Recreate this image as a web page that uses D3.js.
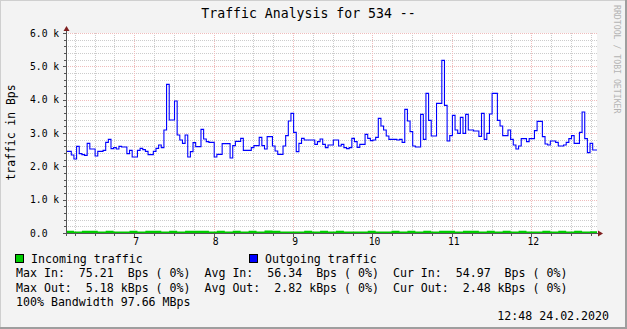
<!DOCTYPE html>
<html>
<head>
<meta charset="utf-8">
<script src="https://cdn.jsdelivr.net/npm/d3@7"></script>
<style>
  body { margin: 0; background: #f3f3f3; }
  text { font-family: "DejaVu Sans Mono", monospace; }
</style>
</head>
<body>
<div id="chart"></div>
<script>
// outgoing traffic in Bps, one value every 2 minutes from 06:08:24
var outBps = [
  2450, 2450, 2340, 2220, 2600, 2380, 2350, 2330, 2690, 2520,
  2520, 2310, 2450, 2450, 2480, 2720, 2810, 2530, 2560, 2520,
  2600, 2580, 2580, 2380, 2480, 2280, 2280, 2480, 2540, 2500,
  2450, 2350, 2350, 2450, 2540, 2640, 2560, 3090, 4460, 3390,
  3390, 3960, 2940, 2790, 2690, 2940, 2280, 2440, 2710, 2590,
  2590, 3110, 2820, 2740, 2720, 2720, 2280, 2360, 2360, 2680,
  2680, 2680, 2250, 2620, 2750, 2750, 2840, 2480, 2480, 2480,
  2560, 2620, 2620, 2870, 2620, 2520, 2890, 2890, 2610, 2460,
  2360, 2360, 2610, 2920, 3360, 3590, 3020, 2440, 2690, 2840,
  2790, 2790, 2790, 2790, 2660, 2740, 2820, 2660, 2560, 2640,
  2640, 2790, 2790, 2610, 2660, 2560, 2530, 2560, 2840, 2740,
  2570, 2660, 2660, 2960, 2840, 2770, 2790, 2870, 3440, 3210,
  3090, 2910, 2810, 2810, 2810, 2790, 2810, 2720, 3710, 3360,
  3040, 2610, 2580, 2580, 3560, 2810, 4190, 3380, 2910, 2910,
  3890, 3890, 5180, 3830, 2760, 2920, 3530, 3090, 2990, 3470,
  2990, 3560, 3090, 3090, 3060, 3060, 2900, 3590, 2810, 2990,
  3570, 4190, 4190, 3380, 3210, 2920, 2920, 3090, 2810, 2640,
  2520, 2610, 2830, 2830, 2740, 2830, 2830, 3070, 3350, 3350,
  2890, 2670, 2640, 2760, 2760, 2720, 2610, 2610, 2640, 2720,
  2830, 2920, 2690, 2690, 3020, 3630, 2830, 2410, 2690, 2490
];

// incoming traffic in Bps, one value every 6 minutes from 06:08:24
var inBps = [
  68, 45, 68, 68, 45, 68, 45, 45, 68, 45,
  68, 68, 45, 68, 45, 68, 68, 68, 45, 68,
  45, 68, 45, 68, 45, 75, 68, 45, 45, 45,
  68, 45, 68, 45, 68, 45, 45, 45, 68, 45,
  45, 68, 45, 68, 45, 68, 45, 68, 68, 45,
  68, 68, 45, 68, 45, 68, 45, 68, 45, 45,
  68, 45, 68, 45, 68, 45, 55
];

var yTickLabels = ["0.0", "1.0 k", "2.0 k", "3.0 k", "4.0 k", "5.0 k", "6.0 k"];

var legendNames = ["Incoming traffic", "Outgoing traffic"];
var legendColors = ["#00cc00", "#0000ff"];
var statRows = [
  "Max In:  75.21  Bps ( 0%)  Avg In:  56.34  Bps ( 0%)  Cur In:  54.97  Bps ( 0%)",
  "Max Out:  5.18 kBps ( 0%)  Avg Out:  2.82 kBps ( 0%)  Cur Out:  2.48 kBps ( 0%)",
  "100% Bandwidth 97.66 MBps"
];

var t0 = new Date(2020, 1, 24, 6, 8, 24);
var t1 = new Date(2020, 1, 24, 12, 49, 40);

var width = 627, height = 329;
var pLeft = 66, pRight = 597, pTop = 33, pBottom = 233;

var svg = d3.select("#chart").append("svg")
    .attr("width", width)
    .attr("height", height);

// background + 3d frame
svg.append("rect").attr("width", width).attr("height", height).attr("fill", "#f3f3f3");
svg.append("rect").attr("x", 0).attr("y", 0).attr("width", width).attr("height", 1).attr("fill", "#cfcfcf");
svg.append("rect").attr("x", 0).attr("y", 0).attr("width", 1).attr("height", height).attr("fill", "#cfcfcf");
svg.append("rect").attr("x", 0).attr("y", height - 2).attr("width", width).attr("height", 2).attr("fill", "#9e9e9e");
svg.append("rect").attr("x", width - 2).attr("y", 0).attr("width", 2).attr("height", height).attr("fill", "#9e9e9e");

var x = d3.scaleTime().domain([t0, t1]).range([pLeft, pRight]);
var y = d3.scaleLinear().domain([0, 6000]).range([pBottom, pTop]);

// canvas
svg.append("rect")
    .attr("x", pLeft).attr("y", pTop)
    .attr("width", pRight - pLeft).attr("height", pBottom - pTop)
    .attr("fill", "#ffffff");

var grid = svg.append("g").attr("shape-rendering", "crispEdges");

var minorTimes = d3.timeMinute.every(15).range(t0, t1).filter(function (d) { return d.getMinutes() !== 0; });
var hourTimes = d3.timeHour.every(1).range(t0, t1);
var minorVals = y.ticks(30).filter(function (d) { return d % 1000 !== 0; });
var majorVals = y.ticks(6);

grid.selectAll(".vmin").data(minorTimes).enter().append("line")
    .attr("x1", function (d) { return Math.round(x(d)) + 0.5; })
    .attr("x2", function (d) { return Math.round(x(d)) + 0.5; })
    .attr("y1", pTop).attr("y2", pBottom)
    .style("stroke", "#cccccc")
    .style("stroke-dasharray", "1,1");

grid.selectAll(".hmin").data(minorVals).enter().append("line")
    .attr("x1", pLeft).attr("x2", pRight)
    .attr("y1", function (d) { return Math.round(y(d)) + 0.5; })
    .attr("y2", function (d) { return Math.round(y(d)) + 0.5; })
    .style("stroke", "#cccccc")
    .style("stroke-dasharray", "1,1");

grid.selectAll(".vmaj").data(hourTimes).enter().append("line")
    .attr("x1", function (d) { return Math.round(x(d)) + 0.5; })
    .attr("x2", function (d) { return Math.round(x(d)) + 0.5; })
    .attr("y1", pTop).attr("y2", pBottom)
    .style("stroke", "#efbcbc")
    .style("stroke-dasharray", "1,1");

grid.selectAll(".hmaj").data(majorVals).enter().append("line")
    .attr("x1", pLeft).attr("x2", pRight)
    .attr("y1", function (d) { return Math.round(y(d)) + 0.5; })
    .attr("y2", function (d) { return Math.round(y(d)) + 0.5; })
    .style("stroke", "#efbcbc")
    .style("stroke-dasharray", "1,1");

function toPoints(vals, stepSec) {
    var pts = vals.map(function (v, i) { return { t: new Date(+t0 + i * stepSec * 1000), v: v }; });
    pts.push({ t: t1, v: vals[vals.length - 1] });
    return pts;
}

var inPts = toPoints(inBps, 360);
var outPts = toPoints(outBps, 120);

svg.append("path")
    .datum(inPts)
    .attr("fill", "#00cc00")
    .attr("d", d3.area().curve(d3.curveStepAfter)
        .x(function (d) { return x(d.t); })
        .y0(y(0))
        .y1(function (d) { return y(d.v); }));

svg.append("path")
    .datum(outPts)
    .attr("fill", "none")
    .style("stroke", "#0000ff")
    .style("stroke-width", 1.1)
    .attr("d", d3.line().curve(d3.curveStepAfter)
        .x(function (d) { return x(d.t); })
        .y(function (d) { return y(d.v); }));

// axes
var axis = svg.append("g").attr("shape-rendering", "crispEdges");
axis.append("line").attr("x1", pLeft - 3).attr("x2", pRight + 3)
    .attr("y1", pBottom + 0.5).attr("y2", pBottom + 0.5).style("stroke", "#555");
axis.append("line").attr("x1", pLeft + 0.5).attr("x2", pLeft + 0.5)
    .attr("y1", pBottom + 3).attr("y2", pTop - 3).style("stroke", "#555");

axis.selectAll(".ty").data(y.ticks(30)).enter().append("line")
    .attr("x1", function (d) { return d % 1000 === 0 ? pLeft - 3 : pLeft - 2; })
    .attr("x2", pLeft)
    .attr("y1", function (d) { return Math.round(y(d)) + 0.5; })
    .attr("y2", function (d) { return Math.round(y(d)) + 0.5; })
    .style("stroke", "#555");

axis.selectAll(".tx").data(d3.timeMinute.every(15).range(t0, t1)).enter().append("line")
    .attr("x1", function (d) { return Math.round(x(d)) + 0.5; })
    .attr("x2", function (d) { return Math.round(x(d)) + 0.5; })
    .attr("y1", pBottom + 1)
    .attr("y2", function (d) { return d.getMinutes() === 0 ? pBottom + 4 : pBottom + 3; })
    .style("stroke", "#555");

// arrows
svg.append("path")
    .attr("d", d3.line()([[pLeft - 2.5, pTop - 2], [pLeft + 3.5, pTop - 2], [pLeft + 0.5, pTop - 7]]))
    .attr("fill", "#7f1f1f");
svg.append("path")
    .attr("d", d3.line()([[pRight + 1, pBottom - 2.5], [pRight + 1, pBottom + 3.5], [pRight + 6, pBottom + 0.5]]))
    .attr("fill", "#7f1f1f");

// tick labels
svg.selectAll(".ylab").data(majorVals).enter().append("text")
    .attr("x", 30)
    .attr("y", function (d) { return y(d) + 3.7; })
    .style("font-size", "9.7px")
    .text(function (d, i) { return yTickLabels[i]; });

svg.selectAll(".xlab").data(hourTimes).enter().append("text")
    .attr("x", function (d) { return x(d) + 2; })
    .attr("y", 245)
    .attr("text-anchor", "middle")
    .style("font-size", "9.7px")
    .text(d3.timeFormat("%-H"));

// title and unit
svg.append("text")
    .attr("x", 308.5).attr("y", 18)
    .attr("text-anchor", "middle")
    .style("font-size", "13.2px")
    .text("Traffic Analysis for 534 --");

svg.append("text")
    .attr("transform", "translate(15,132.5) rotate(-90)")
    .attr("text-anchor", "middle")
    .style("font-size", "11.4px")
    .text("traffic in Bps");

svg.append("text")
    .attr("transform", "translate(614,5) rotate(90)")
    .style("font-size", "8.2px")
    .style("fill", "#b4b4b4")
    .text("RRDTOOL / TOBI OETIKER");

// legend
var legX = [15, 249];
legendNames.forEach(function (name, i) {
    svg.append("rect")
        .attr("x", legX[i] + 0.5).attr("y", 254.5)
        .attr("width", 8).attr("height", 8)
        .attr("fill", legendColors[i])
        .style("stroke", "#000")
        .style("stroke-width", 1);
    svg.append("text")
        .attr("x", legX[i] + 16).attr("y", 263)
        .style("font-size", "11.6px")
        .text(name);
});

statRows.forEach(function (row, i) {
    svg.append("text")
        .attr("x", 16).attr("y", 277 + i * 14.5)
        .style("font-size", "11.6px")
        .text(row.replace(/ /g, "\u00a0"));
});

svg.append("text")
    .attr("x", 609).attr("y", 320)
    .attr("text-anchor", "end")
    .style("font-size", "11.6px")
    .text("12:48 24.02.2020");
</script>
</body>
</html>
